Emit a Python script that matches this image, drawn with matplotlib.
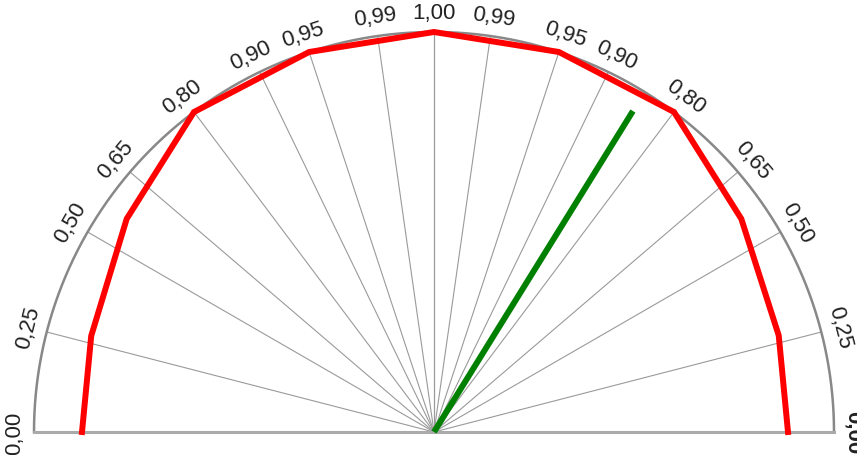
import numpy as np
import matplotlib
matplotlib.use("Agg")
import matplotlib.pyplot as plt

# power factor grid (both sides of the half circle)
pf_ticks = [0.00, 0.25, 0.50, 0.65, 0.80, 0.90, 0.95, 0.99, 1.00]
pf_labels = ["0,00", "0,25", "0,50", "0,65", "0,80", "0,90", "0,95", "0,99", "1,00"]

# red limit curve: power factor and relative radius, left side then right side
red_pf_left = [0.00, 0.27, 0.57, 0.80, 0.95, 1.00]
red_r_left = [0.88, 0.89, 0.935, 1.00, 1.00, 1.00]
red_pf_right = [1.00, 0.95, 0.80, 0.57, 0.27, 0.00]
red_r_right = [1.00, 1.00, 1.00, 0.935, 0.895, 0.885]

# green pointer (measured value)
green_pf = 0.85
green_r = 0.944
green_side = 1  # right


def to_xy(pf, r, side):
    # angle from vertical is arccos(pf); side -1 = left, +1 = right
    a = np.arccos(np.asarray(pf, dtype=float))
    return side * np.asarray(r) * np.sin(a), np.asarray(r) * np.cos(a)


fig = plt.figure(figsize=(8.57, 4.56), dpi=100)
ax = fig.add_axes([0, 0, 1, 1])
ax.set_xlim(-1.085, 1.0575)
ax.set_ylim(-0.0575, 1.0825)
ax.set_aspect("equal")
ax.axis("off")

# radial grid lines
for pf in pf_ticks[1:]:
    for side in (-1, 1):
        x, y = to_xy(pf, 1.0, side)
        ax.plot([0, x], [0, y], color="#9a9a9a", lw=0.8, zorder=1)

# outer arc and base line
t = np.linspace(0, np.pi, 400)
ax.plot(np.cos(t), np.sin(t), color="#888888", lw=1.8, zorder=2)
ax.plot([-1, 1], [0, 0], color="#aaaaaa", lw=2.2, zorder=2)

# red curve
xl, yl = to_xy(red_pf_left, red_r_left, -1)
xr, yr = to_xy(red_pf_right, red_r_right, 1)
ax.plot(np.concatenate([xl, xr]), np.concatenate([yl, yr]),
        color="#ff0000", lw=4.3, solid_joinstyle="miter", zorder=3)

# green pointer
gx, gy = to_xy(green_pf, green_r, green_side)
ax.plot([0, gx], [0, gy], color="#008000", lw=4.3, solid_capstyle="butt", zorder=4)

# labels
for pf, lab in zip(pf_ticks, pf_labels):
    sides = (0,) if pf == 1.0 else (-1, 1)
    for side in sides:
        s = side if side else 1
        x, y = to_xy(pf, 1.048, s)
        elev = np.degrees(np.arcsin(pf))
        rot = 0 if side == 0 else side * -(90 - elev)
        weight = "bold" if (pf == 0.0 and side == 1) else "normal"
        ax.text(x, y, lab, rotation=rot, rotation_mode="anchor",
                ha="center", va="center", fontsize=16, color="#222222",
                family="Liberation Sans", fontweight=weight)

fig.savefig("out.png", dpi=100)
